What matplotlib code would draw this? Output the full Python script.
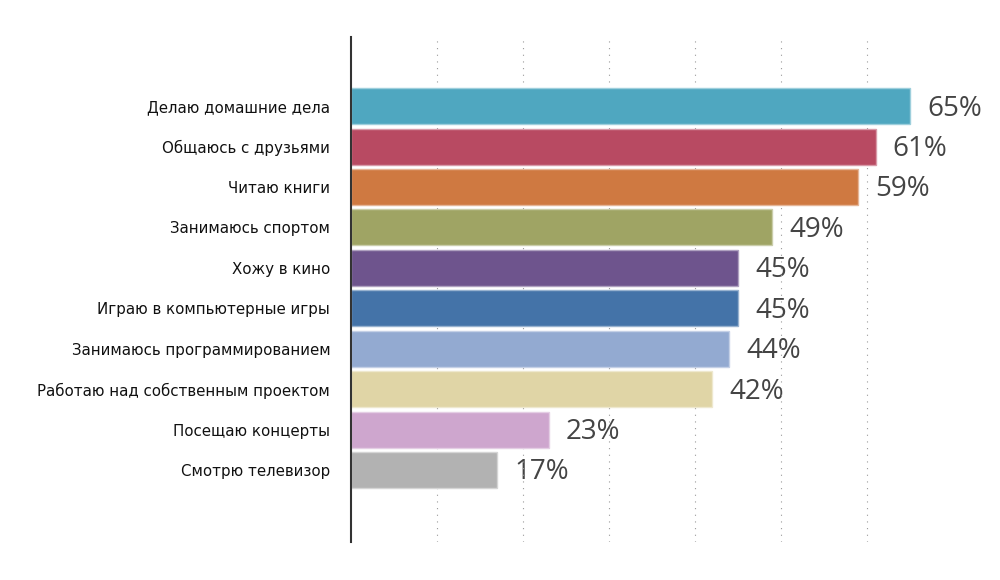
import matplotlib.pyplot as plt
from matplotlib.colors import to_rgb

# Данные
activities = ['Делаю домашние дела', 'Общаюсь с друзьями', 'Читаю книги',
              'Занимаюсь спортом', 'Хожу в кино', 'Играю в компьютерные игры',
              'Занимаюсь программированием', 'Работаю над собственным проектом',
              'Посещаю концерты', 'Смотрю телевизор']
percents = [65, 61, 59, 49, 45, 45, 44, 42, 23, 17]
colors = ['#4FA7C0', '#B84A62', '#CF7941', '#9FA464', '#6E548D',
          '#4473A8', '#93AAD1', '#E0D5A6', '#CEA6CE', '#B2B2B2']


def lighter(c, k=0.45):
    r, g, b = to_rgb(c)
    return (r + (1 - r) * k, g + (1 - g) * k, b + (1 - b) * k)


plt.rcParams['font.family'] = ['DejaVu Sans']

fig = plt.figure(figsize=(10, 5.8), dpi=100)
ax = fig.add_axes([0.351, 0.0655, 0.645, 0.87])

y = list(range(len(activities)))
ax.barh(y, percents, height=0.89, color=colors,
        edgecolor=[lighter(c) for c in colors], linewidth=1, zorder=3)

# подписи значений
for yi, p in zip(y, percents):
    ax.text(p + 2, yi + 0.06, f'{p}%', va='center', ha='left',
            fontsize=20, color='#444444', family=['Open Sans', 'DejaVu Sans'],
            zorder=1)

ax.set_xlim(0, 75)
ax.set_ylim(len(activities) - 1 + 1.78, -1.7)
ax.set_yticks(y)
ax.set_yticklabels(activities, fontsize=10.8, color='#111111')
ax.tick_params(axis='y', length=0, pad=15)
ax.set_xticks([10, 20, 30, 40, 50, 60])
ax.tick_params(axis='x', length=0, labelbottom=False)
ax.grid(axis='x', linestyle=(0, (1, 5)), color='#999999', linewidth=0.8, zorder=2)

for s in ['top', 'right', 'bottom']:
    ax.spines[s].set_visible(False)
ax.spines['left'].set_color('#333333')
ax.spines['left'].set_linewidth(1.5)
ax.spines['left'].set_zorder(4)

fig.savefig('out.png', dpi=100)
